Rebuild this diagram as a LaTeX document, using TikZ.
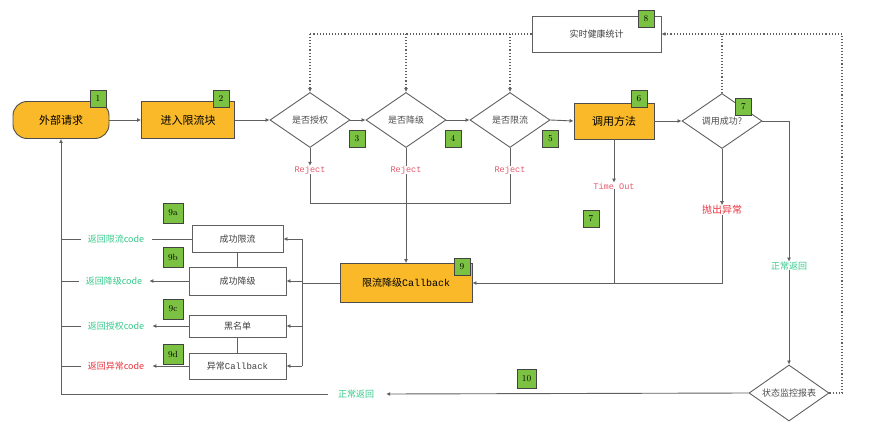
\documentclass[tikz,border=0pt]{standalone}
\usepackage{fontspec}
\newfontfamily\cjk{Noto Sans CJK SC}
\newfontfamily\mono{Liberation Mono}
\usetikzlibrary{arrows.meta,shapes.geometric}
\definecolor{orng}{HTML}{F9B928}
\definecolor{lgreen}{HTML}{7CC242}
\definecolor{rejc}{HTML}{E25A6E}
\definecolor{okc}{HTML}{35C98A}
\definecolor{errc}{HTML}{E8343F}
\definecolor{ln}{HTML}{606060}
\begin{document}
\begin{tikzpicture}[x=1pt,y=-1pt,
  every node/.style={inner sep=0pt},
  obox/.style={draw=ln!80!black,line width=0.9pt,fill=orng,minimum width=93pt,minimum height=37pt,font=\cjk\fontsize{11}{13}\selectfont},
  wbox/.style={draw=ln,line width=0.9pt,fill=white,minimum width=97pt,minimum height=27pt,font=\cjk\fontsize{9}{11}\selectfont,text=black!75},
  dia/.style={draw=ln,line width=0.9pt,diamond,aspect=1.4545,minimum width=80pt,minimum height=55pt,font=\cjk\fontsize{9}{11}\selectfont,text=black!70},
  lab/.style={draw=ln!70!black,line width=0.8pt,fill=lgreen,minimum width=16pt,minimum height=17pt,font=\fontsize{9}{10}\selectfont},
  rej/.style={font=\mono\fontsize{8.6}{10}\selectfont,text=rejc},
  okt/.style={font=\cjk\fontsize{9}{11}\selectfont,text=okc},
  con/.style={draw=ln,line width=0.9pt},
  arr/.style={con,-{Latex[length=4pt,width=4pt]}},
  dot/.style={draw=ln,line width=1.1pt,dotted},
  darr/.style={dot,-{Latex[length=4pt,width=4pt]}}
]
\useasboundingbox (0,0) rectangle (877,433);

% top row
\node[obox,rounded corners=14pt,minimum width=96pt] (req) at (61,120) {外部请求};
\node[obox] (enter) at (188,120) {进入限流块};
\node[dia] (d3) at (310,120) {是否授权};
\node[dia] (d4) at (406,120) {是否降级};
\node[dia] (d5) at (510,120) {是否限流};
\node[obox,minimum width=80pt,minimum height=36pt] (call) at (614,121) {调用方法};
\node[dia] (d7) at (722,121) {调用成功?};
\node[wbox,minimum width=129pt,minimum height=36pt] (stat) at (596.5,34) {实时健康统计};

% rejects / outcomes
\node[rej] (rj1) at (310,170) {Reject};
\node[rej] (rj2) at (406,170) {Reject};
\node[rej] (rj3) at (510,170) {Reject};
\node[rej] (to) at (614,186) {Time Out};
\node[font=\cjk\fontsize{10}{12}\selectfont,text=errc] (ex) at (722,210) {抛出异常};
\node[okt] (nr) at (789,266) {正常返回};
\node[dia,minimum width=80pt,minimum height=56pt] (mon) at (789,393) {状态监控报表};
\node[okt] (nl) at (356,394) {正常返回};

% callback
\node[obox,minimum width=132pt,minimum height=39pt,font=\cjk\fontsize{10}{12}\selectfont] (cb) at (406,283) {限流降级{\mono Callback}};

% left boxes
\node[wbox,minimum width=91pt] (s1) at (237.5,239) {成功限流};
\node[wbox,minimum height=28pt] (s2) at (237.5,281) {成功降级};
\node[wbox,minimum height=22pt] (s3) at (237.5,326) {黑名单};
\node[wbox,minimum height=26pt] (s4) at (237.5,366) {异常{\mono Callback}};

\node[okt] (r1) at (116,239) {返回限流code};
\node[okt] (r2) at (114,281) {返回降级code};
\node[okt] (r3) at (116,326) {返回授权code};
\node[font=\cjk\fontsize{9}{11}\selectfont,text=errc] (r4) at (116,366) {返回异常code};

% coordinates
\coordinate (jl) at (310,203);
\coordinate (jr) at (510,203);
\coordinate (busT) at (302,239);
\coordinate (busB) at (302,366);
\coordinate (busM) at (302,283);
\coordinate (lb) at (61,394);
\coordinate (rt) at (842,34);
\coordinate (rb) at (842,393);

% main flow
\draw[arr] (req.east) -- (enter.west);
\draw[arr] (enter.east) -- (d3.west);
\draw[arr] (d3.east) -- (d4.west);
\draw[arr] (d4.east) -- (d5.west);
\draw[arr] (d5.east) -- (call.west);
\draw[arr] (call.east) -- (d7.west);

\draw[arr] (d3.south) -- (rj1.north);
\draw[con] (d4.south) -- (rj2.north);
\draw[con] (d5.south) -- (rj3.north);
\draw[con] (rj1.south) -- (jl) -- (jr) -- (rj3.south);
\draw[arr] (rj2.south) -- (cb.north);

\draw[arr] (call.south) -- (to.north);
\draw[con] (to.south) -- (to.south |- cb.east);
\draw[arr] (d7.south) -- (ex.north);
\draw[arr] (ex.south) |- (cb.east);

\draw[arr] (d7.east) -| (nr.north);
\draw[arr] (nr.south) -- (mon.north);
\draw[arr] (mon.west) -- ([xshift=12pt]nl.east);
\draw[arr] ([xshift=-10pt]nl.west) -- (lb) -- (req.south);

% dotted health statistics
\draw[dot] (stat.west) -- (d3.north |- stat.west);
\draw[darr] (d3.north |- stat.west) -- (d3.north);
\draw[darr] (d4.north |- stat.west) -- (d4.north);
\draw[darr] (d5.north |- stat.west) -- (d5.north);
\draw[dot] (d7.north) -- (d7.north |- stat.east);
\draw[dot] (mon.east) -- (rb) -- (rt);
\draw[darr] (rt) -- (stat.east);

% callback branches
\draw[con] (cb.west) -- (busM);
\draw[con] (busT) -- (busB);
\draw[arr] (busT) -- (s1.east);
\draw[arr] (s2.east -| busM) -- (s2.east);
\draw[arr] (s3.east -| busM) -- (s3.east);
\draw[arr] (busB) -- (s4.east);
\draw[con] (s1.south) -- (s2.north);
\draw[con] (s3.south) -- (s4.north);

\draw[con] (s1.west) -- ([xshift=8pt]r1.east);
\draw[arr] (s2.west) -- ([xshift=7pt]r2.east);
\draw[arr] (s3.west) -- ([xshift=8pt]r3.east);
\draw[arr] (s4.west) -- ([xshift=8pt]r4.east);
\draw[con] ([xshift=-7pt]r1.west) -- (r1.west -| lb);
\draw[con] ([xshift=-7pt]r2.west) -- (r2.west -| lb);
\draw[con] ([xshift=-7pt]r3.west) -- (r3.west -| lb);
\draw[con] ([xshift=-7pt]r4.west) -- (r4.west -| lb);

% number labels
\node[lab] (l1) at (98,98.5) {1};
\node[lab] (l2) at (221,98.5) {2};
\node[lab] (l3) at (357,139) {3};
\node[lab] (l4) at (453,138.5) {4};
\node[lab] (l5) at (550.5,138.5) {5};
\node[lab] (l6) at (639,98.5) {6};
\node[lab] (l7) at (743.5,106.5) {7};
\node[lab] (l8) at (646,18.5) {8};
\node[lab] (l7b) at (591,219) {7};
\node[lab] (l9) at (462,267) {9};
\node[lab,minimum width=20pt,minimum height=20pt] (l9a) at (173,213) {9a};
\node[lab,minimum width=20pt,minimum height=20pt] (l9b) at (173,257) {9b};
\node[lab,minimum width=20pt,minimum height=20pt] (l9c) at (173,309) {9c};
\node[lab,minimum width=20pt,minimum height=20pt] (l9d) at (173,354) {9d};
\node[lab,minimum width=19pt,minimum height=19pt] (l10) at (526.5,378.5) {10};
\end{tikzpicture}
\end{document}
